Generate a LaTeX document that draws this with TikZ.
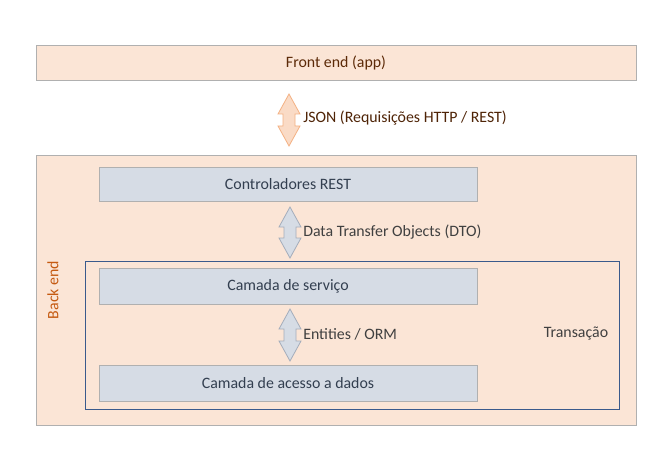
\documentclass[tikz,border=0pt]{standalone}
\usepackage{fontspec}
\setmainfont{Carlito}
\usetikzlibrary{calc}
\definecolor{peach}{HTML}{FBE5D6}
\definecolor{peachdark}{HTML}{F8CBAD}
\definecolor{peachline}{HTML}{F4B183}
\definecolor{slate}{HTML}{D6DCE5}
\definecolor{slateline}{HTML}{ADB9CA}
\definecolor{boxline}{HTML}{B0B0B0}
\definecolor{brown}{HTML}{843C0C}
\definecolor{orng}{HTML}{C55A11}
\definecolor{navy}{HTML}{3A5A8C}
\definecolor{txt}{HTML}{404040}
\definecolor{bluetxt}{HTML}{333F50}
\newcommand{\blockarrow}[3]{%
  \draw[#3] (#1) -- ($(#1)+(11,20)$) -- ($(#1)+(6,20)$) -- ($(#2)+(6,-20)$) -- ($(#2)+(11,-20)$) -- (#2) -- ($(#2)+(-11,-20)$) -- ($(#2)+(-6,-20)$) -- ($(#1)+(-6,20)$) -- ($(#1)+(-11,20)$) -- cycle;}
\begin{document}
\begin{tikzpicture}[x=0.75pt,y=-0.75pt,font=\fontsize{11.9}{14}\selectfont,
  peachbox/.style={draw=boxline,fill=peach,line width=0.6pt,inner sep=0pt},
  layerbox/.style={draw=boxline,fill=slate,line width=0.6pt,minimum width=283.5pt,inner sep=0pt,text=bluetxt},
  peacharrow/.style={fill=peachdark!70,draw=peachline,line width=0.6pt},
  slatearrow/.style={fill=slate,draw=slateline!80!gray,line width=0.6pt},
  lbl/.style={anchor=west,inner sep=0pt,text=txt}]
\useasboundingbox (0,0) rectangle (663,474);
\fill[white] (0,0) rectangle (663,474);
\node[peachbox,minimum width=450pt,minimum height=26.25pt,text=brown!70!black] (front) at (336,62.5) {Front end (app)};
\node[peachbox,minimum width=450pt,minimum height=202.5pt] (back) at (336,290) {};
\node[rotate=90,text=orng] (backlbl) at (53,290) {Back end};
\node[layerbox,minimum height=25.5pt] (ctrl) at (288,184) {Controladores REST};
\node[draw=navy,line width=0.7pt,minimum width=400.5pt,minimum height=111pt,inner sep=0pt] (trans) at (352,335) {};
\node[layerbox,minimum height=27pt] (serv) at (288,286) {Camada de serviço};
\node[layerbox,minimum height=27pt] (dados) at (288,383) {Camada de acesso a dados};
\node[text=txt] (translbl) at (576,334) {Transação};
\coordinate (jt) at (289,94);
\coordinate (jb) at (289,146);
\coordinate (dt) at (290,207);
\coordinate (db) at (290,258);
\coordinate (et) at (290,309);
\coordinate (eb) at (290,361);
\blockarrow{jt}{jb}{peacharrow}
\blockarrow{dt}{db}{slatearrow}
\blockarrow{et}{eb}{slatearrow}
\node[lbl,text=brown!60!black] (jsonlbl) at (303,118) {JSON (Requisições HTTP / REST)};
\node[lbl] (dtolbl) at (303,232) {Data Transfer Objects (DTO)};
\node[lbl] (entlbl) at (303,334) {Entities / ORM};
\end{tikzpicture}
\end{document}
